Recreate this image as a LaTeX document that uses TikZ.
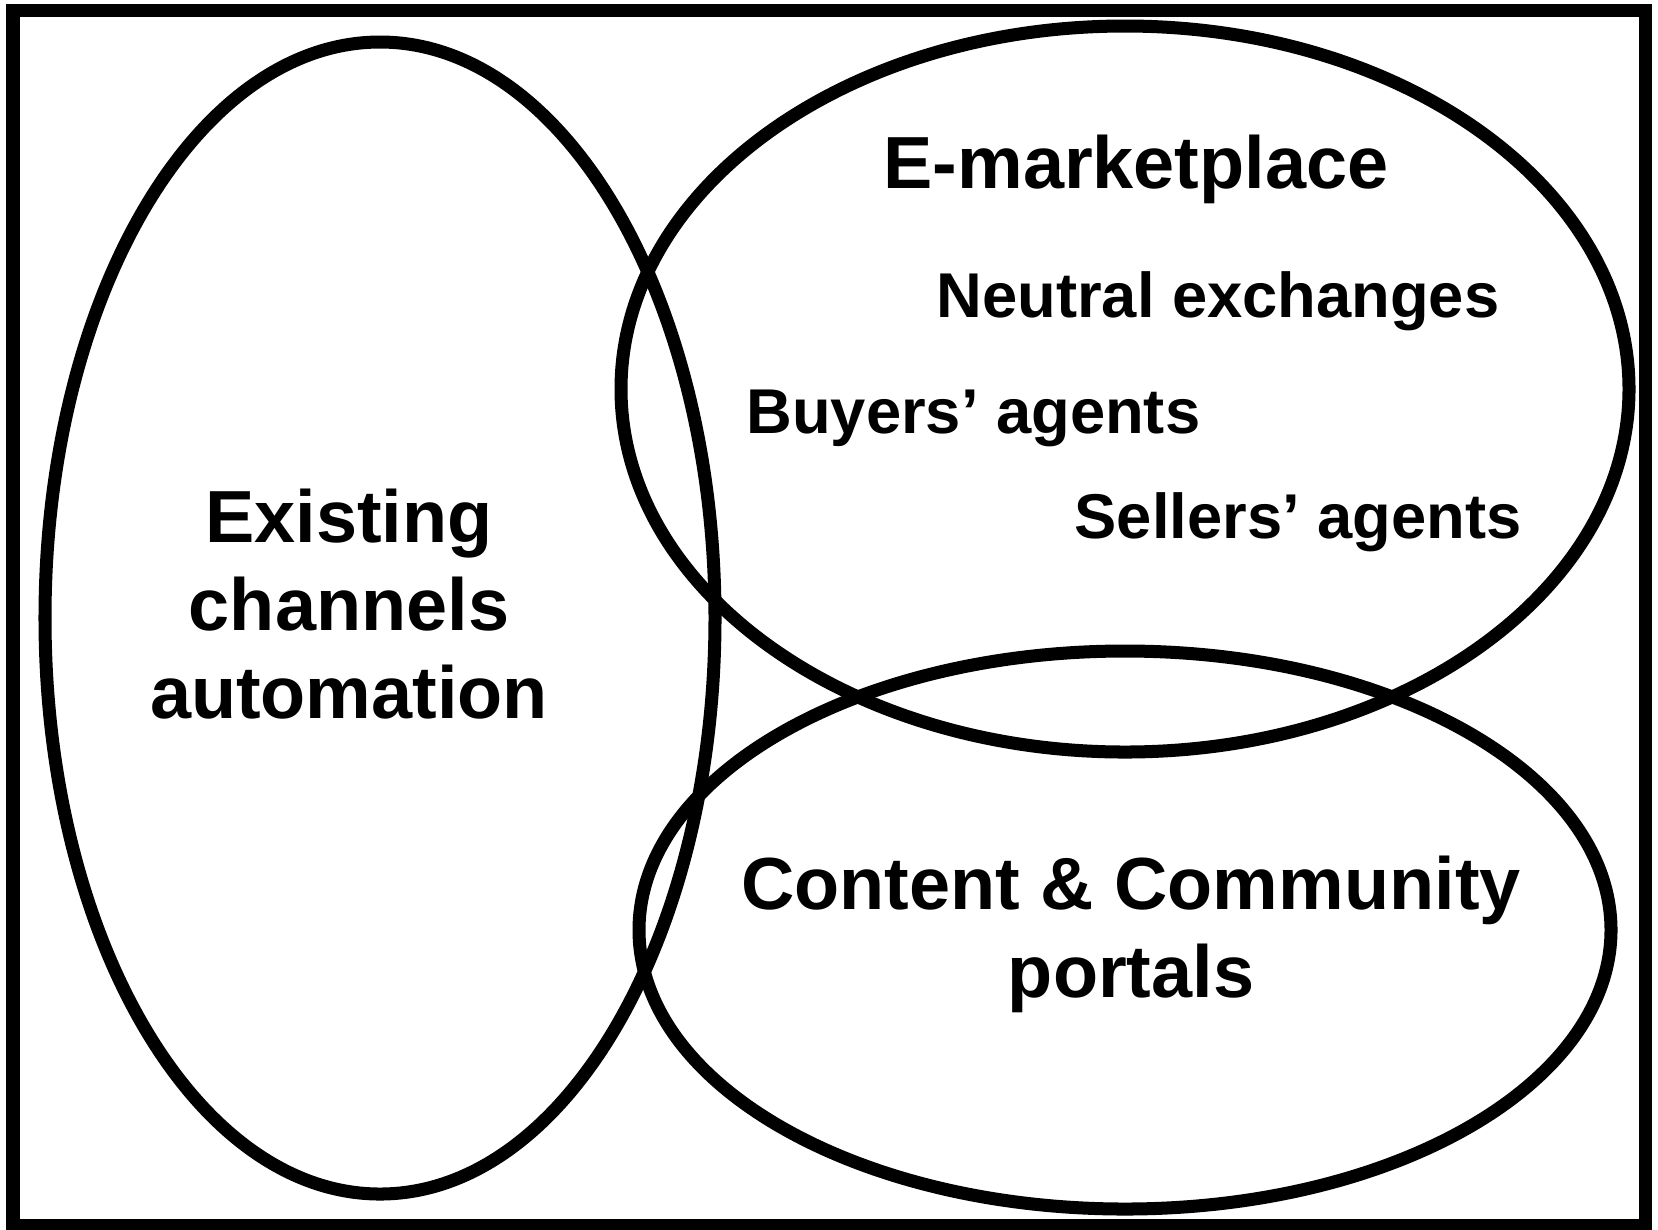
\documentclass[tikz,border=0pt]{standalone}
\usepackage{fontspec}
\setmainfont{Liberation Sans}

\begin{document}
\begin{tikzpicture}[x=0.01cm, y=-0.01cm, line width=3.7pt,
  every node/.style={align=center, inner sep=0pt},
  biglbl/.style={font=\fontsize{21}{25}\selectfont\bfseries},
  smalllbl/.style={font=\fontsize{18}{22}\selectfont\bfseries}]
  \useasboundingbox (0,0) rectangle (1658,1229);
  \draw (13,10) rectangle (1645,1225);
  % the three sets
  \draw (380,618) ellipse [x radius=335, y radius=576];
  \draw (1125,389) ellipse [x radius=504, y radius=363];
  \draw (1125,930) ellipse [x radius=486, y radius=279];
  \node[biglbl, anchor=base] (existing) at (349,718) {Existing\\channels\\automation};
  \node[biglbl, anchor=base] (emarket) at (1136,188) {E-marketplace};
  \node[smalllbl, anchor=base] (neutral) at (1218,317) {Neutral exchanges};
  \node[smalllbl, anchor=base west] (buyers) at (740,433) {Buyers’ agents};
  \node[smalllbl, anchor=base] (sellers) at (1298,538) {Sellers’ agents};
  \node[biglbl, anchor=base] (portals) at (1131,997) {Content \& Community\\portals};
\end{tikzpicture}
\end{document}
